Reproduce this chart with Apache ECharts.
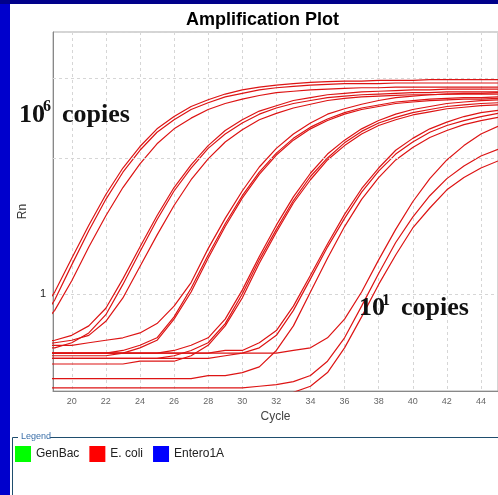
<!DOCTYPE html>
<html>
<head>
<meta charset="utf-8">
<title>Amplification Plot</title>
<script src="https://cdn.jsdelivr.net/npm/echarts@6.0.0/dist/echarts.min.js"></script>
<style>
  html, body { margin: 0; padding: 0; background: #fff; }
  #main { width: 498px; height: 495px; }
</style>
</head>
<body>
<div id="main"></div>
<script>
// cycle numbers the readings were taken at
var cycles = [18,19,20,21,22,23,24,25,26,27,28,29,30,31,32,33,34,35,36,37,38,39,40,41,42,43,44,45];
var cycleTicks = [20,22,24,26,28,30,32,34,36,38,40,42,44];
var rnGrid = [2, 3];

// Rn readings, E. coli, three replicates per dilution
var copies6 = [
  [0.89,1.01,1.2,1.42,1.66,1.9,2.12,2.32,2.47,2.6,2.69,2.77,2.83,2.87,2.9,2.92,2.94,2.95,2.96,2.96,2.97,2.97,2.97,2.98,2.98,2.98,2.98,2.98],
  [0.85,0.97,1.16,1.38,1.62,1.86,2.08,2.28,2.43,2.56,2.65,2.73,2.78,2.83,2.86,2.88,2.9,2.91,2.92,2.92,2.92,2.93,2.93,2.93,2.93,2.93,2.93,2.93],
  [0.83,0.92,1.07,1.27,1.49,1.72,1.94,2.15,2.32,2.45,2.56,2.64,2.7,2.75,2.79,2.81,2.83,2.84,2.85,2.86,2.86,2.87,2.87,2.87,2.87,2.87,2.87,2.87]
];
var copies5 = [
  [0.78,0.79,0.81,0.85,0.93,1.08,1.27,1.49,1.72,1.93,2.13,2.3,2.43,2.54,2.61,2.68,2.72,2.76,2.78,2.8,2.81,2.82,2.83,2.83,2.84,2.84,2.84,2.84],
  [0.76,0.76,0.78,0.82,0.9,1.05,1.24,1.46,1.69,1.9,2.1,2.26,2.39,2.5,2.58,2.64,2.68,2.72,2.74,2.76,2.77,2.78,2.79,2.79,2.8,2.8,2.8,2.8],
  [0.77,0.78,0.79,0.81,0.87,0.98,1.15,1.35,1.57,1.79,1.99,2.17,2.31,2.43,2.51,2.58,2.63,2.68,2.71,2.73,2.74,2.75,2.76,2.76,2.77,2.77,2.77,2.77]
];
var copies4 = [
  [0.77,0.77,0.77,0.78,0.79,0.8,0.82,0.86,0.94,1.06,1.26,1.47,1.69,1.91,2.1,2.26,2.39,2.5,2.57,2.63,2.68,2.72,2.74,2.76,2.77,2.78,2.78,2.79],
  [0.74,0.74,0.74,0.74,0.74,0.75,0.77,0.8,0.89,1.03,1.22,1.43,1.65,1.86,2.05,2.21,2.34,2.44,2.52,2.58,2.62,2.66,2.68,2.7,2.71,2.72,2.72,2.73],
  [0.73,0.73,0.73,0.73,0.73,0.74,0.76,0.79,0.88,1.01,1.2,1.41,1.63,1.84,2.03,2.19,2.32,2.42,2.5,2.56,2.6,2.64,2.66,2.68,2.69,2.7,2.7,2.71]
];
var copies3 = [
  [0.74,0.74,0.74,0.74,0.74,0.74,0.74,0.74,0.75,0.77,0.8,0.88,1.02,1.21,1.42,1.64,1.85,2.04,2.19,2.32,2.42,2.5,2.56,2.6,2.64,2.66,2.68,2.69],
  [0.72,0.72,0.72,0.72,0.72,0.72,0.72,0.72,0.73,0.75,0.78,0.86,1.0,1.19,1.39,1.61,1.82,2.0,2.16,2.29,2.39,2.46,2.52,2.56,2.6,2.62,2.64,2.65],
  [0.7,0.7,0.7,0.7,0.7,0.7,0.71,0.71,0.71,0.73,0.77,0.85,0.98,1.17,1.37,1.59,1.79,1.98,2.13,2.26,2.36,2.43,2.49,2.53,2.57,2.59,2.61,2.62]
];
var copies2 = [
  [0.74,0.74,0.74,0.74,0.74,0.74,0.74,0.74,0.74,0.74,0.74,0.75,0.75,0.78,0.83,0.94,1.1,1.29,1.5,1.71,1.9,2.08,2.21,2.32,2.4,2.47,2.52,2.55],
  [0.72,0.72,0.72,0.72,0.72,0.72,0.72,0.72,0.72,0.72,0.72,0.73,0.74,0.76,0.81,0.92,1.08,1.27,1.47,1.68,1.87,2.04,2.17,2.28,2.36,2.42,2.47,2.51],
  [0.65,0.65,0.65,0.65,0.65,0.65,0.65,0.65,0.65,0.65,0.66,0.66,0.67,0.69,0.75,0.85,1.01,1.2,1.41,1.62,1.81,1.98,2.11,2.22,2.3,2.37,2.42,2.46]
];
var copies1 = [
  [0.74,0.74,0.74,0.74,0.74,0.74,0.74,0.74,0.74,0.74,0.74,0.74,0.74,0.74,0.74,0.75,0.76,0.8,0.88,1.01,1.19,1.39,1.6,1.8,1.98,2.13,2.26,2.35],
  [0.62,0.62,0.62,0.62,0.62,0.62,0.62,0.62,0.62,0.62,0.62,0.62,0.62,0.625,0.63,0.64,0.66,0.71,0.8,0.94,1.11,1.3,1.48,1.65,1.8,1.92,2.02,2.09],
  [0.59,0.59,0.59,0.59,0.59,0.59,0.59,0.59,0.59,0.59,0.59,0.59,0.59,0.595,0.598,0.606,0.625,0.67,0.76,0.89,1.05,1.22,1.4,1.55,1.7,1.81,1.9,1.97]
];
var dilutions = [copies6, copies5, copies4, copies3, copies2, copies1];
var legendNames = ['GenBac', 'E. coli', 'Entero1A'];
var legendColors = ['#00ff00', '#ff0000', '#0000ff'];

var sansFont = '"Liberation Sans", Arial, sans-serif';
var serifBold = 'bold 26px "Liberation Serif", "Times New Roman", serif';
var supBold = 'bold 16px "Liberation Serif", "Times New Roman", serif';

var chart = echarts.init(document.getElementById('main'));

var series = [];
series.push({
  name: legendNames[0], type: 'line', data: [],
  itemStyle: {color: legendColors[0]}, lineStyle: {color: legendColors[0]}
});
dilutions.forEach(function(group){
  group.forEach(function(vals){
    series.push({
      name: legendNames[1],
      type: 'line',
      symbol: 'none',
      showSymbol: false,
      silent: true,
      clip: true,
      emphasis: {disabled: true},
      itemStyle: {color: legendColors[1]},
      lineStyle: {color: '#dd1414', width: 1.2},
      data: cycles.map(function(c, i){ return [c, vals[i]]; })
    });
  });
});
series.push({
  name: legendNames[2], type: 'line', data: [],
  itemStyle: {color: legendColors[2]}, lineStyle: {color: legendColors[2]}
});
// extra dashed Rn grid lines at 2 and 3
series.push({
  name: 'rnGrid', type: 'line', data: [], silent: true,
  markLine: {
    silent: true, symbol: 'none', animation: false,
    label: {show: false},
    lineStyle: {color: '#d6d6d6', type: [3, 3], width: 1},
    data: rnGrid.map(function(v){ return {yAxis: v}; })
  }
});

chart.setOption({
  animation: false,
  backgroundColor: '#fff',
  title: {
    text: 'Amplification Plot',
    left: 181, top: 6,
    textStyle: {fontSize: 18, fontWeight: 'bold', color: '#000', fontFamily: sansFont}
  },
  legend: {
    data: legendNames,
    left: 15, top: 446,
    icon: 'rect',
    itemWidth: 16, itemHeight: 16, itemGap: 10,
    padding: 0,
    selectedMode: false,
    textStyle: {fontSize: 12, color: '#222', fontFamily: sansFont}
  },
  grid: {
    left: 53, top: 32, right: -4, bottom: 104,
    show: true, borderColor: '#aaa', borderWidth: 1, backgroundColor: '#fff'
  },
  xAxis: {
    type: 'value',
    min: 18.9, max: 45,
    name: 'Cycle',
    nameLocation: 'middle',
    nameGap: 19,
    nameTextStyle: {fontSize: 12, color: '#444', fontFamily: sansFont},
    axisLine: {lineStyle: {color: '#888'}},
    axisTick: {show: false, customValues: cycleTicks},
    axisLabel: {customValues: cycleTicks, fontSize: 9, color: '#666', margin: 6, fontFamily: sansFont},
    splitLine: {show: true, lineStyle: {color: '#d6d6d6', type: [3, 3]}}
  },
  yAxis: {
    type: 'log',
    logBase: 10,
    min: 0.61, max: 3.8,
    name: 'Rn',
    nameLocation: 'middle',
    nameGap: 20,
    nameTextStyle: {fontSize: 12, color: '#333', fontFamily: sansFont},
    axisLine: {show: true, lineStyle: {color: '#888'}},
    axisTick: {show: false},
    axisLabel: {showMinLabel: false, showMaxLabel: false, fontSize: 11, color: '#222', margin: 7, fontFamily: sansFont},
    splitLine: {show: true, lineStyle: {color: '#d6d6d6', type: [3, 3]}}
  },
  series: series,
  graphic: [
    {type: 'rect', left: 0, top: 0, z: 100, shape: {width: 10, height: 495}, style: {fill: '#0000cc'}},
    {type: 'rect', left: 0, top: 0, z: 100, shape: {width: 498, height: 4}, style: {fill: '#00008a'}},
    {type: 'polyline', z: 100, shape: {points: [[12.5, 495], [12.5, 437.5], [18, 437.5]]}, style: {stroke: '#1f4e6e', lineWidth: 1, fill: null}},
    {type: 'polyline', z: 100, shape: {points: [[50, 437.5], [498, 437.5]]}, style: {stroke: '#1f4e6e', lineWidth: 1, fill: null}},
    {type: 'text', z: 100, style: {x: 21, y: 437, text: 'Legend', font: '9px ' + sansFont, fill: '#3b6fa8', verticalAlign: 'middle'}},
    {type: 'text', z: 100, style: {x: 19, y: 115, text: '10', font: serifBold, fill: '#111', verticalAlign: 'middle'}},
    {type: 'text', z: 100, style: {x: 43, y: 107, text: '6', font: supBold, fill: '#111', verticalAlign: 'middle'}},
    {type: 'text', z: 100, style: {x: 62, y: 115, text: 'copies', font: serifBold, fill: '#111', verticalAlign: 'middle'}},
    {type: 'text', z: 100, style: {x: 359, y: 308, text: '10', font: serifBold, fill: '#111', verticalAlign: 'middle'}},
    {type: 'text', z: 100, style: {x: 382, y: 301, text: '1', font: supBold, fill: '#111', verticalAlign: 'middle'}},
    {type: 'text', z: 100, style: {x: 401, y: 308, text: 'copies', font: serifBold, fill: '#111', verticalAlign: 'middle'}}
  ]
});
</script>
</body>
</html>
